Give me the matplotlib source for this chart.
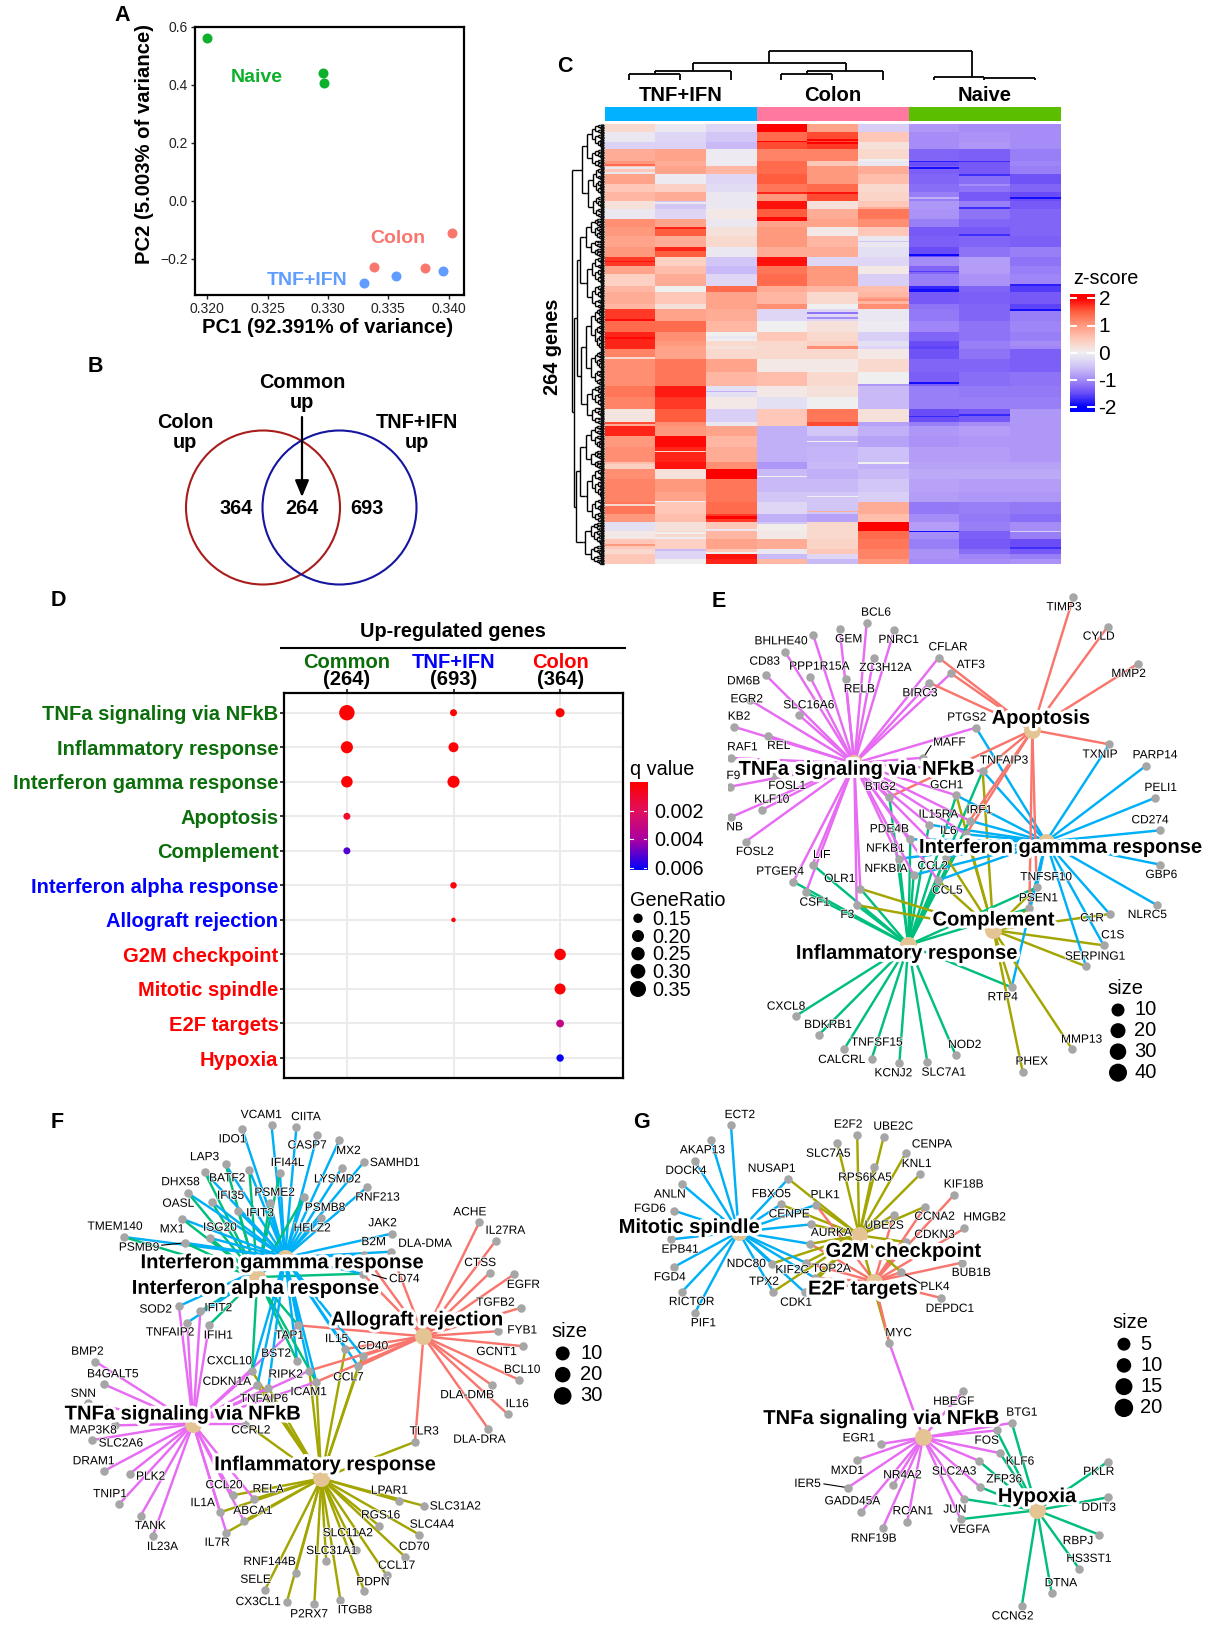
import numpy as np
import matplotlib
matplotlib.use("Agg")
import matplotlib.pyplot as plt
from matplotlib.collections import LineCollection
from matplotlib.colors import LinearSegmentedColormap
from matplotlib.patches import Circle
import matplotlib.patheffects as pe

plt.rcParams['font.family'] = ['Liberation Sans', 'DejaVu Sans']
W, H = 1220, 1637
fig = plt.figure(figsize=(W / 100, H / 100), dpi=100)

# ---------------- DATA ----------------
# Panel A
naive_pc1 = [0.3200, 0.3296, 0.3297]
naive_pc2 = [0.559, 0.439, 0.404]
colon_pc1 = [0.3403, 0.3338, 0.3380]
colon_pc2 = [-0.112, -0.229, -0.233]
tnf_pc1 = [0.3330, 0.3356, 0.3395]
tnf_pc2 = [-0.284, -0.261, -0.241]
pc1_ticks = [0.320, 0.325, 0.330, 0.335, 0.340]
pc2_ticks = [-0.2, 0.0, 0.2, 0.4, 0.6]

# Panel B
venn_counts = [364, 264, 693]

# Panel C: bands of genes: (number of rows, z-score of nine samples)
heat_bands = [
 (5, .3,-.1,-.3,2.0,.9,-.4,-.9,-1.0,-1.0),
 (6, -.1,-.3,-.5,1.4,1.6,.5,-1.0,-.95,-1.0),
 (4, -.35,-.35,-.6,1.6,1.7,.2,-1.0,-.9,-1.0),
 (7, .8,.9,-.05,1.2,1.2,.3,-1.3,-1.35,-1.1),
 (3, 1.0,.8,-.05,1.4,.5,-.1,-1.5,-1.4,-1.05),
 (5, .5,.9,.7,1.4,1.0,.8,-1.35,-1.4,-1.1),
 (6, .9,-.05,-.3,1.5,1.0,.6,-1.3,-1.25,-1.45),
 (5, .5,.4,-.25,1.3,1.4,.3,-1.25,-1.2,-1.3),
 (5, .7,.8,-.1,1.0,1.6,.35,-1.1,-1.4,-1.5),
 (5, .2,-.5,-.1,1.9,.2,.5,-.9,-1.1,-1.4),
 (6, -.1,-.3,.1,1.5,.8,1.3,-.95,-1.2,-1.3),
 (5, 1.1,.9,-.1,.9,.9,1.1,-1.1,-1.3,-1.3),
 (5, 1.0,1.5,.2,1.0,.1,.5,-1.4,-1.4,-1.3),
 (7, .9,.8,.3,1.0,.7,-.1,-1.35,-1.3,-1.35),
 (6, 1.0,1.5,-.1,.8,.8,-.2,-1.5,-1.2,-1.1),
 (5, 1.7,.4,-.5,1.9,-.3,-.3,-1.0,-.85,-1.2),
 (5, .9,.6,-.6,1.3,1.0,.1,-1.3,-.85,-1.1),
 (7, .4,.8,-.3,1.4,1.0,-.4,-1.1,-.95,-1.05),
 (4, .7,.0,1.4,.8,.7,.6,-1.75,-1.3,-1.6),
 (7, .8,.5,.9,.7,.3,.7,-1.4,-1.35,-1.4),
 (3, .7,.2,.9,1.1,.0,1.1,-1.2,-1.3,-1.55),
 (7, 1.7,.9,.8,-.3,-.3,-.1,-1.15,-1.3,-1.1),
 (7, 1.4,1.4,.7,.0,.2,-.05,-1.05,-1.2,-1.05),
 (5, 1.8,1.1,.0,.5,.3,-.4,-1.3,-1.2,-1.1),
 (3, 1.8,1.0,.3,.3,.4,-.2,-1.5,-1.1,-1.0),
 (2, 1.8,.9,.2,.3,1.1,-.3,-1.55,-1.1,-1.05),
 (6, 1.2,.9,.3,.3,.3,.1,-1.45,-1.2,-1.35),
 (8, 1.1,1.3,.9,.1,.1,.3,-1.3,-1.3,-1.35),
 (8, 1.1,1.3,.7,.6,.3,.0,-1.35,-1.25,-1.2),
 (7, 1.3,1.85,-.2,.1,.2,-.6,-1.1,-1.15,-1.15),
 (7, 1.2,1.7,.1,-.2,.0,-.6,-1.1,-1.1,-1.1),
 (8, .15,1.5,-.4,.5,1.3,.2,-1.5,-1.4,-.9),
 (2, .8,1.1,-.1,.5,1.6,-.8,-1.1,-1.0,-.9),
 (6, 1.8,1.0,.9,-.7,-.5,-.7,-.9,-.85,-.9),
 (7, 1.0,1.95,.7,-.7,-.7,-.8,-.95,-.9,-.9),
 (9, 1.1,1.8,.8,-.7,-.65,-.55,-.85,-.85,-.9),
 (4, .4,1.9,1.1,-.9,-.6,-.7,-.8,-.8,-.8),
 (6, 1.1,.2,2.0,-.6,-.7,-.6,-.75,-.75,-.75),
 (8, 1.2,1.0,1.3,-.6,-.6,-.5,-.8,-.85,-.85),
 (6, 1.2,.9,1.3,-.5,-.5,-.4,-.85,-.9,-.9),
 (7, 1.3,.5,1.4,-.3,-.5,.8,-1.15,-1.1,-1.15),
 (5, 1.0,.6,1.7,-.7,-.8,.6,-1.0,-1.15,-1.25),
 (5, -.2,.2,.5,.05,.3,2.0,-.85,-1.1,-1.0),
 (5, .1,.3,.7,.1,.3,1.4,-1.0,-1.35,-1.1),
 (6, .5,.4,.9,.8,.35,1.3,-1.1,-1.4,-1.5),
 (3, .3,-.3,.5,-.1,.5,1.2,-.95,-1.25,-1.4),
 (3, .5,-.3,1.9,-.6,-.3,1.2,-.95,-1.05,-1.1),
 (3, .5,.0,1.8,.7,-.6,1.0,-1.0,-1.0,-.95),
]
# single genes that stand out of their band: (row, sample, z-score)
heat_stripes = [
 (10,3,2.0),(9,4,2.0),(11,4,2.0),(24,0,1.4),(26,0,-.1),(29,0,-.1),(22,6,-1.8),(26,6,-1.9),(22,7,-1.7),
 (41,3,1.8),(41,4,1.9),(44,6,-.7),(44,8,-1.9),(56,3,1.95),(57,3,1.95),(62,1,1.8),(74,1,1.8),(75,1,1.8),
 (82,0,1.9),(82,3,1.95),(78,6,-1.95),(96,8,-1.8),(99,6,-1.9),(100,6,-1.9),(111,8,-1.9),(113,4,-1.2),
 (116,4,-1.0),(117,0,1.95),(127,2,-.1),(128,0,1.95),(128,2,-.1),(30,7,-1.7),(36,7,-1.0),(50,7,-1.7),
 (19,2,-.05),(21,5,.0),(47,1,-.1),(50,5,.8),(66,7,-1.7),(70,5,-.5),(88,6,-1.6),(104,5,.9),(105,5,1.1),
 (155,6,-1.9),(156,5,-.9),(175,6,-1.75),(174,7,-1.75),(179,0,1.6),(203,5,.0),(203,0,.6),(211,3,.0),
 (223,4,.0),(235,2,2.0),(236,2,2.0),(243,2,-.1),(244,6,-1.9),(244,8,-.4),(245,1,.0),(248,1,-.05),
 (257,2,.0),(140,0,.3),(150,3,.6),(148,4,.0),(160,2,-.7),(190,4,.0),(196,1,.3),(226,1,.0),(228,0,.3),
 (232,4,.8),(239,3,-.5),(252,0,1.0),(255,1,-.6),(254,8,-1.7),
]
heat_groups = ["TNF+IFN", "Colon", "Naive"]
z_ticks = [2, 1, 0, -1, -2]

# Panel D
terms = ["TNFa signaling via NFkB", "Inflammatory response", "Interferon gamma response",
         "Apoptosis", "Complement", "Interferon alpha response", "Allograft rejection",
         "G2M checkpoint", "Mitotic spindle", "E2F targets", "Hypoxia"]
term_colors = ["#0B6E0B"] * 5 + ["#0000FF"] * 2 + ["#FF0000"] * 4
dot_groups = ["Common", "TNF+IFN", "Colon"]
dot_counts = ["(264)", "(693)", "(364)"]
group_colors = ["#0B6E0B", "#0000FF", "#FF0000"]
dot_col = [0, 0, 0, 0, 0, 1, 1, 1, 1, 1, 2, 2, 2, 2, 2]
dot_row = [0, 1, 2, 3, 4, 0, 1, 2, 5, 6, 0, 7, 8, 9, 10]
dot_ratio = [.33, .22, .20, .10, .10, .10, .17, .22, .09, .05, .15, .20, .19, .12, .11]
dot_q = [.0001, .0001, .0001, .0010, .0050, .0001, .0001, .0001, .0002, .0002, .0001, .0001, .0001, .0030, .0059]
ratio_legend = [0.15, 0.20, 0.25, 0.30, 0.35]
q_ticks = [0.002, 0.004, 0.006]

# Panels E, F, G: (gene, node x, node y, label x, label y, linked hubs)
E_hubs = {"T": ("TNFa signaling via NFkB", 463, 520, 470, 538, "#E76BF3"),
          "A": ("Apoptosis", 997, 420, 1022, 385, "#F8766D"),
          "I": ("Interferon gammma response", 1038, 755, 1082, 772, "#00B0F6"),
          "C": ("Complement", 880, 1020, 880, 990, "#A3A500"),
          "F": ("Inflammatory response", 625, 1065, 620, 1090, "#00BF7D")}
E_genes = [
 ("TIMP3",1120,22,1092,52,"A"),("CYLD",1223,110,1196,140,"A"),("MMP2",1314,221,1286,252,"A"),
 ("CFLAR",716,203,744,172,"TA"),("ATF3",753,250,812,225,"TA"),("BIRC3",688,278,660,310,"TA"),
 ("BCL6",500,99,528,68,"T"),("GEM",419,118,446,148,"T"),("PNRC1",583,120,596,150,"T"),
 ("BHLHE40",340,136,243,154,"T"),("CD83",255,185,194,215,"T"),("PPP1R15A",330,260,358,230,"T"),
 ("ZC3H12A",521,204,556,234,"T"),("DM6B",198,256,131,274,"T"),("RELB",437,268,478,298,"T"),
 ("EGR2",150,330,140,328,"T"),("SLC16A6",298,376,326,346,"T"),("KB2",101,410,117,380,"T"),
 ("REL",204,437,236,468,"T"),("RAF1",92,504,127,472,"T"),("MAFF",670,503,748,458,"T"),
 ("PTGS2",828,413,800,383,"TI"),("TXNIP",1228,463,1200,494,"AI"),("PARP14",1338,527,1365,496,"I"),
 ("PELI1",1364,624,1382,594,"I"),("CD274",1380,721,1350,691,"I"),("GBP6",1381,824,1384,855,"I"),
 ("NLRC5",1370,945,1342,975,"I"),("C1R",1229,972,1176,985,"IC"),("C1S",1211,1066,1238,1036,"IC"),
 ("SERPING1",1158,1129,1185,1100,"IC"),("TNFAIP3",848,543,912,512,"TAICF"),("BTG2",568,621,541,591,"TAF"),
 ("GCH1",769,616,740,586,"TICF"),("IL15RA",687,704,715,674,"TIF"),("IRF1",809,692,838,661,"TAIF"),
 ("IL6",798,733,745,723,"TAICF"),("PDE4B",631,748,568,718,"TIF"),("NFKB1",597,806,556,776,"TIF"),
 ("NFKBIA",641,855,558,837,"TIF"),("CCL2",738,800,698,829,"TICF"),("CCL5",714,871,742,902,"TICF"),
 ("F9",90,590,100,558,"T"),("FOSL1",222,555,261,588,"T"),("KLF10",187,659,215,629,"T"),
 ("NB",94,681,104,712,"T"),("FOSL2",137,755,164,786,"T"),("LIF",338,824,365,795,"TF"),
 ("PTGER4",280,875,240,845,"TF"),("CSF1",318,907,344,938,"TF"),("OLR1",481,896,419,867,"TCF"),
 ("F3",470,945,442,975,"TCF"),("TNFSF10",1010,892,1038,862,"AICF"),("PSEN1",988,955,1015,925,"AICF"),
 ("RTP4",935,1192,908,1222,"ICF"),("CXCL8",287,1278,258,1250,"F"),("BDKRB1",357,1334,384,1305,"F"),
 ("TNFSF15",515,1406,530,1358,"F"),("CALCRL",432,1378,425,1410,"F"),("KCNJ2",598,1420,580,1450,"F"),
 ("SLC7A1",682,1416,731,1448,"F"),("NOD2",767,1395,794,1365,"F"),("MMP13",1117,1378,1145,1349,"C"),
 ("PHEX",968,1445,995,1415,"C"),
]
E_leaders = [(693, 467, 670, 503)]
E_size = (["10", "20", "30", "40"], 1254, [1260, 1322, 1385, 1448], [13, 15, 16.5, 18], 1303, 1275, 1195)

F_hubs = {"G": ("Interferon gammma response", 640, 460, 633, 475, "#00B0F6"),
          "A": ("Interferon alpha response", 568, 517, 563, 550, "#00BF7D"),
          "R": ("Allograft rejection", 1002, 690, 985, 642, "#F8766D"),
          "T": ("TNFa signaling via NFkB", 400, 945, 373, 917, "#E76BF3"),
          "I": ("Inflammatory response", 735, 1105, 745, 1065, "#A3A500")}
F_genes = [
 ("VCAM1",605,73,578,44,"G"),("CIITA",670,80,695,50,"G"),("IDO1",528,84,503,115,"G"),
 ("CASP7",725,102,698,133,"G"),("MX2",782,118,806,149,"G"),("SAMHD1",847,180,927,184,"G"),
 ("IFI44L",627,214,647,184,"GA"),("LAP3",485,188,430,167,"GA"),("BATF2",547,204,489,229,"GA"),
 ("LYSMD2",788,200,777,232,"G"),("DHX58",430,210,367,240,"GA"),("RNF213",855,254,882,285,"G"),
 ("IFI35",449,298,498,280,"GA"),("PSME2",601,301,613,271,"GA"),("PSMB8",690,283,745,315,"GA"),
 ("OASL",388,273,361,303,"GA"),("IFIT3",518,324,575,331,"GA"),("HELZ2",735,345,711,375,"G"),
 ("MX1",371,347,345,378,"GA"),("ISG20",445,403,470,373,"GA"),("TMEM140",219,400,196,370,"GA"),
 ("PSMB9",379,417,259,431,"GA"),("JAK2",920,390,895,360,"G"),("B2M",847,452,872,415,"GR"),
 ("DLA-DMA",917,443,1006,420,"GR"),("CD74",843,507,952,523,"AGR"),("ACHE",1148,357,1123,328,"R"),
 ("IL27RA",1191,411,1216,382,"R"),("CTSS",1175,505,1150,476,"R"),("EGFR",1240,508,1263,540,"R"),
 ("TGFB2",1256,607,1190,592,"R"),("FYB1",1198,675,1260,673,"R"),("GCNT1",1263,719,1193,736,"R"),
 ("BCL10",1252,817,1260,788,"R"),("DLA-DMB",1180,832,1116,862,"R"),("IL16",1222,917,1247,888,"R"),
 ("DLA-DRA",1172,961,1148,992,"R"),("TLR3",980,998,1004,968,"RI"),("SOD2",363,602,302,612,"GT"),
 ("IFIT2",419,617,466,608,"GAT"),("TNFAIP2",385,650,340,679,"GT"),("IFIH1",442,657,466,688,"AT"),
 ("TAP1",675,658,652,688,"RGAT"),("IL15",798,727,775,698,"GIR"),("CD40",843,748,870,719,"GRI"),
 ("CCL7",832,778,806,810,"GRI"),("BST2",672,762,617,741,"GA"),("CXCL10",554,792,495,763,"GAIT"),
 ("RIPK2",704,790,642,802,"GRIT"),("ICAM1",722,823,702,853,"GRITA"),("CDKN1A",568,833,488,823,"TGI"),
 ("TNFAIP6",597,840,585,873,"TGI"),("CCRL2",537,945,551,965,"TI"),("BMP2",145,764,124,735,"T"),
 ("B4GALT5",167,830,190,801,"T"),("SNN",125,885,113,858,"T"),("MAP3K8",197,950,139,965,"T"),
 ("SLC2A6",137,993,211,1003,"T"),("DRAM1",166,1084,140,1055,"T"),("PLK2",235,1091,289,1100,"T"),
 ("TNIP1",207,1180,183,1151,"T"),("TANK",263,1214,288,1244,"T"),("IL23A",295,1273,320,1305,"T"),
 ("CCL20",505,1154,481,1125,"TI"),("RELA",559,1165,596,1137,"TI"),("IL1A",471,1204,425,1177,"TI"),
 ("ABCA1",533,1229,556,1200,"TI"),("IL7R",487,1263,463,1293,"TI"),("LPAR1",937,1170,913,1141,"I"),
 ("SLC31A2",1003,1185,1085,1187,"I"),("RGS16",886,1243,890,1213,"I"),("SLC4A4",991,1269,1024,1240,"I"),
 ("SLC11A2",825,1313,804,1265,"I"),("CD70",954,1334,978,1305,"I"),("SLC31A1",748,1346,762,1317,"I"),
 ("CCL17",906,1388,932,1360,"I"),("RNF144B",668,1380,600,1349,"I"),("PDPN",848,1435,870,1408,"I"),
 ("SELE",588,1430,563,1401,"I"),("CX3CL1",645,1466,570,1466,"I"),("P2RX7",717,1471,703,1502,"I"),
 ("ITGB8",785,1460,823,1490,"I"),
]
F_leaders = [(318, 424, 379, 417), (868, 510, 905, 522), (812, 1285, 825, 1313)]
F_size = (["10", "20", "30"], 1366, [740, 802, 864], [14, 15.5, 17.6], 1412, 1384, 675)

G_hubs = {"M": ("Mitotic spindle", 310, 385, 180, 372, "#00B0F6"),
          "C": ("G2M checkpoint", 625, 395, 740, 442, "#A3A500"),
          "E": ("E2F targets", 665, 530, 635, 552, "#F8766D"),
          "T": ("TNFa signaling via NFkB", 792, 985, 683, 930, "#E76BF3"),
          "H": ("Hypoxia", 1090, 1198, 1090, 1158, "#00BF7D")}
G_genes = [
 ("ECT2",290,74,313,44,"M"),("AKAP13",238,118,215,147,"M"),("DOCK4",195,177,172,207,"M"),
 ("ANLN",161,245,130,276,"M"),("FGD6",141,323,78,318,"M"),("EPB41",133,407,157,437,"M"),
 ("FGD4",142,487,130,518,"M"),("RICTOR",162,560,187,590,"M"),("PIF1",196,621,218,652,"M"),
 ("NUSAP1",440,230,396,201,"MC"),("FBXO5",420,305,395,275,"MC"),("PLK1",512,306,536,278,"MCE"),
 ("CENPE",500,363,442,334,"MC"),("AURKA",497,420,552,388,"MCE"),("NDC80",396,478,330,479,"MC"),
 ("KIF2C",485,475,450,497,"MCE"),("TOP2A",510,520,552,493,"MCE"),("TPX2",400,560,376,531,"MC"),
 ("CDK1",483,562,460,592,"MCE"),("E2F2",620,102,596,72,"C"),("UBE2C",689,108,714,78,"C"),
 ("SLC7A5",568,127,544,157,"C"),("CENPA",747,155,815,130,"C"),("RPS6KA5",663,196,640,227,"C"),
 ("KNL1",784,217,775,187,"C"),("KIF18B",873,277,898,247,"E"),("UBE2S",715,336,690,367,"CE"),
 ("CCNA2",798,311,822,341,"CE"),("HMGB2",900,375,953,343,"E"),("CDKN3",748,415,822,394,"CE"),
 ("BUB1B",893,475,918,505,"E"),("PLK4",735,502,823,546,"CE"),("DEPDC1",839,578,862,610,"E"),
 ("MYC",704,710,728,681,"CET"),("HBEGF",897,850,872,881,"T"),("BTG1",1024,943,1050,913,"TH"),
 ("FOS",984,965,958,995,"TH"),("EGR1",683,1004,624,988,"T"),("KLF6",993,1031,1045,1056,"TH"),
 ("MXD1",619,1051,594,1083,"T"),("ZFP36",937,1053,1004,1108,"TH"),("NR4A2",713,1125,738,1096,"T"),
 ("IER5",595,1132,490,1121,"T"),("SLC2A3",941,1130,873,1085,"TH"),("GADD45A",631,1202,607,1172,"T"),
 ("RCAN1",751,1231,765,1201,"T"),("JUN",899,1165,875,1196,"TH"),("VEGFA",890,1224,914,1255,"TH"),
 ("RNF19B",687,1249,663,1281,"T"),("PKLR",1275,1056,1251,1086,"H"),("DDIT3",1276,1160,1251,1191,"H"),
 ("RBPJ",1252,1269,1197,1288,"H"),("HS3ST1",1200,1369,1225,1340,"H"),("DTNA",1128,1439,1152,1411,"H"),
 ("CCNG2",1050,1478,1026,1508,"H"),
]
G_leaders = [(533, 1121, 595, 1132), (735, 502, 785, 535)]
G_size = (["5", "10", "15", "20"], 1317, [713, 775, 837, 899], [13, 14.5, 17, 18.4], 1360, 1335, 650)


# ---------------- HELPERS ----------------
def ax_px(x0, y0, x1, y1, **kw):
    ax = fig.add_axes([x0 / W, 1 - y1 / H, (x1 - x0) / W, (y1 - y0) / H], **kw)
    return ax

def pt(px):
    return px * 0.72

ov = ax_px(0, 0, W, H)
ov.set_xlim(0, W); ov.set_ylim(H, 0); ov.axis("off"); ov.set_zorder(20)
ov.patch.set_alpha(0)

def T(x, y, s, size=14.3, weight="bold", color="k", ha="center", va="center", **kw):
    return ov.text(x, y + 1.2, s, fontsize=size, fontweight=weight, color=color, ha=ha, va=va, **kw)

for letter, x, y in [("A", 122, 14), ("B", 95, 365), ("C", 565, 65), ("D", 58, 599),
                     ("E", 719, 600), ("F", 57, 1121), ("G", 641, 1121)]:
    T(x, y, letter, size=15.5)

# ---------------- PANEL A ----------------
axA = ax_px(195, 26.6, 464, 295)
pt_size = pt(10) ** 2
axA.scatter(naive_pc1, naive_pc2, s=pt_size, color="#0DB02B", linewidths=0)
axA.scatter(colon_pc1, colon_pc2, s=pt_size, color="#F8766D", linewidths=0)
axA.scatter(tnf_pc1, tnf_pc2, s=pt_size, color="#619CFF", linewidths=0)
axA.set_xlim(0.31898, 0.34127); axA.set_ylim(-0.325, 0.6)
axA.set_xticks(pc1_ticks); axA.set_xticklabels([f"{v:.3f}" for v in pc1_ticks])
axA.set_yticks(pc2_ticks); axA.set_yticklabels([f"{v:.1f}".replace("-", "\u2212") for v in pc2_ticks])
axA.tick_params(labelsize=10, length=3, width=1, pad=2, colors="#222222")
for s in axA.spines.values():
    s.set_linewidth(1.6)
T(328, 326, "PC1 (92.391% of variance)", size=14.6)
T(145, 143, "PC2 (5.003% of variance)", size=14.6, rotation=90)
T(257, 76.6, "Naive", color="#0DB02B", size=14)
T(398, 237, "Colon", color="#F8766D", size=14)
T(307, 279, "TNF+IFN", color="#619CFF", size=14)

# ---------------- PANEL B ----------------
ov.add_patch(Circle((263, 507.5), 77, fill=False, ec="#A81C1C", lw=1.5))
ov.add_patch(Circle((339.5, 507.5), 77, fill=False, ec="#1515A0", lw=1.5))
for x, v in zip([236, 302, 367], venn_counts):
    T(x, 507, str(v))
T(185, 421, "Colon"); T(185, 441, "up")
T(302, 381, "Common"); T(302, 401, "up")
T(417, 421, "TNF+IFN"); T(417, 441, "up")
ov.annotate("", xy=(302, 497), xytext=(302, 417),
            arrowprops=dict(arrowstyle="-|>,head_width=0.42,head_length=1.0", color="k", lw=1.6,
                            shrinkA=0, shrinkB=0))

# ---------------- PANEL C ----------------
heat_cmap = LinearSegmentedColormap.from_list("heat", [
    (0.0, "#0000FF"), (0.125, "#6A4DF7"), (0.25, "#A68CF7"), (0.375, "#D2C6F7"), (0.5, "#F0F0F0"),
    (0.625, "#FFC8B8"), (0.75, "#FF9A80"), (0.875, "#FF6040"), (1.0, "#FF0000")])
heat = np.repeat(np.array([b[1:] for b in heat_bands], float), [b[0] for b in heat_bands], axis=0)
for r, c, v in heat_stripes:
    heat[r, c] = v
axC = ax_px(604.5, 124, 1060.5, 564)
axC.pcolormesh(heat, cmap=heat_cmap, vmin=-2, vmax=2)
axC.set_ylim(heat.shape[0], 0); axC.axis("off")

axBar = ax_px(604.5, 107, 1060.5, 121)
axBar.bar([1.5, 4.5, 7.5], [1, 1, 1], width=3, color=["#00B2FF", "#FF78A0", "#5BBF00"])
axBar.set_xlim(0, 9); axBar.set_ylim(0, 1); axBar.axis("off")
for x, s in zip([681, 833, 985], heat_groups):
    T(x, 94, s, size=14.6)
T(552, 346, "264 genes", rotation=90)

col_tree = [(769, 972, 50.7, 63, 76.8), (693, 846, 63, 71, 71), (655, 731, 71, 73.6, 80),
            (629, 680, 73.6, 80, 80), (807, 883, 71, 73.6, 80), (781, 832, 73.6, 80, 80),
            (934, 984, 76.8, 80, 77.5), (984, 1035, 77.5, 80, 80)]
segs = []
for x0, x1, y, y0, y1 in col_tree:
    segs += [[(x0, y), (x1, y)], [(x0, y), (x0, y0)], [(x1, y), (x1, y1)]]
ov.add_collection(LineCollection(segs, colors="k", linewidths=1.3))

# row dendrogram
row_tree = (571.6,
            (582, (585, 124, 168), (586, 168, 218)),
            (574, (577, (580, (584, 218, 257), (585, 257, 308)), (581, (584, 308, 385), (585, 385, 425))),
             (576, (580, (584, 425, 469), (585, 469, 522)), (583, 522, 564))))
row_h = 440 / 264
leaf_x = 603.5
den = []

def split(x, a, b, depth=0):
    """Fill a clade down to single genes; returns y of its root."""
    if b - a <= row_h * 1.01:
        y = (a + b) / 2
        den.append([(x, y), (leaf_x, y)])
        return y
    n = max(1, int(round((b - a) / row_h)))
    cut = a + row_h * max(1, int(n * (0.42 if depth % 2 else 0.58)))
    nx = x + (leaf_x - x) * 0.3
    y0 = split(nx, a, cut, depth + 1)
    y1 = split(nx, cut, b, depth + 2)
    den.append([(nx, y0), (x, y0)]); den.append([(nx, y1), (x, y1)])
    den.append([(x, y0), (x, y1)])
    return (y0 + y1) / 2

def walk(node):
    if len(node) == 3 and not isinstance(node[1], tuple):
        y0 = split(node[0] + 2, node[1], node[2], 0)
        den.append([(node[0], y0), (node[0] + 2, y0)])
        return y0
    x, left, right = node
    ys = []
    for child in (left, right):
        y = walk(child)
        den.append([(x, y), (child[0], y)])
        ys.append(y)
    den.append([(x, ys[0]), (x, ys[1])])
    return sum(ys) / 2

walk(row_tree)
ov.add_collection(LineCollection(den, colors="k", linewidths=1.0))
ov.add_collection(LineCollection([[(601.5, 124), (601.5, 564)]], colors="#111111", linewidths=2.4))

axZ = ax_px(1069.5, 293.6, 1094.5, 412)
grad = np.linspace(-2.18, 2.18, 256).reshape(-1, 1)
axZ.imshow(np.clip(grad, -2, 2), cmap=heat_cmap, vmin=-2, vmax=2, origin="lower",
           extent=[0, 1, -2.18, 2.18], aspect="auto")
axZ.axis("off")
for v in z_ticks:
    axZ.plot([0, 0.25], [v, v], color="w", lw=1.4)
    axZ.plot([0.75, 1], [v, v], color="w", lw=1.4)
    T(1098.5, 353 - v * 27.25, str(v), size=15, weight="normal", ha="left")
T(1073.5, 277.5, "z-score", size=14.3, weight="normal", ha="left")

# ---------------- PANEL D ----------------
q_cmap = LinearSegmentedColormap.from_list("q", [(0, "#FF0000"), (0.333, "#E0105F"), (0.667, "#A800A5"), (1, "#0000FF")])
ratio_scale_x = [0.05, 0.10, 0.15, 0.20, 0.25, 0.30, 0.35]
ratio_scale_d = [4.5, 7, 9, 11.5, 13, 14.5, 16]
axD = ax_px(284, 693.3, 623, 1077.7)
axD.set_xlim(-0.59, 2.59); axD.set_ylim(10.57, -0.562)
axD.grid(True, color="#EBEBEB", lw=1.5); axD.set_axisbelow(True)
axD.scatter(dot_col, dot_row, s=pt(np.interp(dot_ratio, ratio_scale_x, ratio_scale_d)) ** 2,
            c=dot_q, cmap=q_cmap, vmin=0, vmax=0.006, linewidths=0, zorder=3)
axD.set_yticks(range(len(terms))); axD.set_yticklabels(terms, fontsize=14.5, fontweight="bold")
for lab, c in zip(axD.get_yticklabels(), term_colors):
    lab.set_color(c)
axD.set_xticks(range(3)); axD.set_xticklabels([])
axD.xaxis.tick_top()
axD.tick_params(length=3, width=1.1, pad=1)
for s in axD.spines.values():
    s.set_linewidth(1.6)
for i, (g, n, c) in enumerate(zip(dot_groups, dot_counts, group_colors)):
    axD.annotate(g, (i, 1), xycoords=axD.get_xaxis_transform(), xytext=(0, 22.5), textcoords="offset points",
                 ha="center", va="center", fontsize=14.5, fontweight="bold", color=c)
    axD.annotate(n, (i, 1), xycoords=axD.get_xaxis_transform(), xytext=(0, 10), textcoords="offset points",
                 ha="center", va="center", fontsize=14.5, fontweight="bold")
T(453, 630.7, "Up-regulated genes")
ov.plot([281, 625], [648.3, 648.3], color="k", lw=1.5)
T(630, 768.7, "q value", weight="normal", ha="left")
axQ = ax_px(630, 782.3, 647, 870)
axQ.imshow(np.linspace(0, 0.006, 256).reshape(-1, 1), cmap=q_cmap, vmin=0, vmax=0.006, aspect="auto",
           extent=[0, 1, 0.00614, 0], interpolation="bilinear")
axQ.set_ylim(0.00614, 0); axQ.axis("off")
for v in q_ticks:
    axQ.plot([0, 0.2], [v, v], color="w", lw=0.8)
    axQ.plot([0.8, 1], [v, v], color="w", lw=0.8)
    T(654, 782.3 + v / 0.002 * 28.6, f"{v:.3f}", weight="normal", ha="left")
T(630, 899.3, "GeneRatio", weight="normal", ha="left")
leg_y = [918.3, 936, 953.7, 971.3, 989]
ov.scatter([638] * 5, leg_y, s=[pt(d) ** 2 for d in [9.4, 12, 13.4, 14.7, 16]], color="k", linewidths=0)
for y, v in zip(leg_y, ratio_legend):
    T(652.7, y, f"{v:.2f}", weight="normal", ha="left")


# ---------------- NETWORKS ----------------
def network(box, extent, hubs, genes, leaders, size_legend, left=0):
    x0, y0, x1, y1 = box
    ex, ey = extent
    ax = ax_px(x0 + left * (x1 - x0) / ex, y0, x1, y1)
    ax.set_xlim(left, ex); ax.set_ylim(ey, 0); ax.axis("off"); ax.patch.set_alpha(0)
    for g, gx, gy, lx, ly, links in genes:
        for k in links:
            h = hubs[k]
            ax.plot([gx, h[1]], [gy, h[2]], color=h[5], lw=1.75, zorder=1, solid_capstyle="round")
    for seg in leaders:
        ax.plot([seg[0], seg[2]], [seg[1], seg[3]], color="k", lw=0.8, zorder=2)
    ax.scatter([g[1] for g in genes], [g[2] for g in genes], s=pt(8.5) ** 2, color="#A6A6A6", linewidths=0, zorder=3)
    ax.scatter([h[1] for h in hubs.values()], [h[2] for h in hubs.values()], s=pt(17) ** 2,
               color="#E5C494", linewidths=0, zorder=3)
    thin = [pe.withStroke(linewidth=1.0, foreground="w")]
    for g, gx, gy, lx, ly, links in genes:
        ax.text(lx, ly, g, fontsize=8.6, ha="center", va="center", zorder=4, path_effects=thin, clip_on=False)
    halo = [pe.withStroke(linewidth=4.5, foreground="w")]
    for h in hubs.values():
        ax.text(h[3], h[4], h[0], fontsize=14.5, fontweight="bold", ha="center", va="center", zorder=5,
                path_effects=halo, clip_on=False)
    labs, dx, dys, ds, tx, sx, sy = size_legend
    ax.text(sx, sy, "size", fontsize=14.5, ha="center", va="center")
    ax.scatter([dx] * len(dys), dys, s=[pt(d) ** 2 for d in ds], color="k", linewidths=0)
    for s, y in zip(labs, dys):
        ax.text(tx, y, s, fontsize=14.5, ha="left", va="center")


network((700, 590, 1220, 1090), (1560, 1500), E_hubs, E_genes, E_leaders, E_size, left=85)
network((40, 1100, 640, 1637), (1568, 1568), F_hubs, F_genes, F_leaders, F_size)
network((620, 1100, 1220, 1637), (1568, 1568), G_hubs, G_genes, G_leaders, G_size)

fig.savefig("out.png", dpi=100)
